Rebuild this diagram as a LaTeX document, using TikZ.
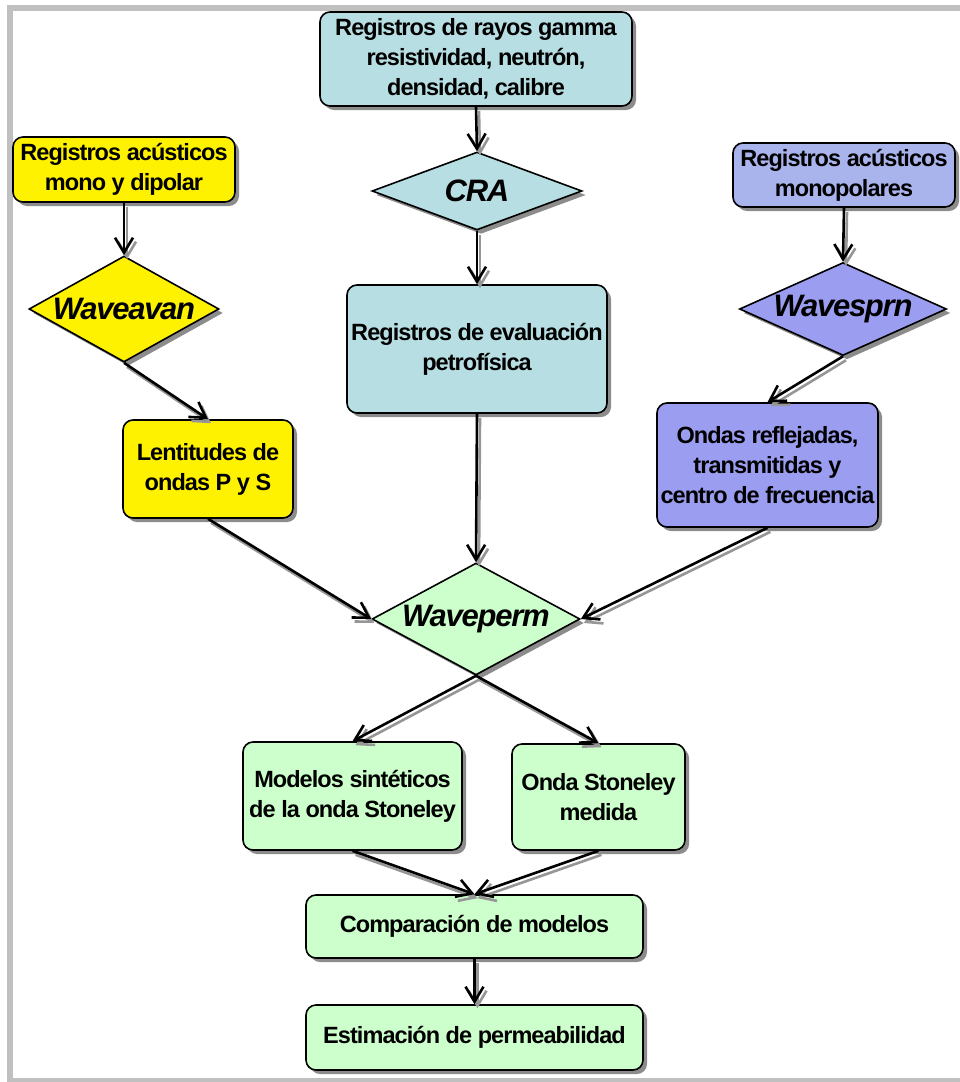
\documentclass[tikz,border=0pt]{standalone}
\usepackage{fontspec}
\setmainfont{Liberation Sans}[LetterSpace=-4]
\usetikzlibrary{shapes.geometric,shadows,arrows.meta}

\definecolor{cyanbox}{RGB}{183,222,226}
\definecolor{lilacbox}{RGB}{170,180,236}
\definecolor{lilacdark}{RGB}{155,158,240}
\definecolor{greenbox}{RGB}{204,255,204}
\definecolor{framegray}{RGB}{192,192,192}
\definecolor{shadegray}{RGB}{140,140,140}
\definecolor{linegray}{RGB}{150,150,150}

\tikzset{
  box/.style={draw=black, line width=1.6pt, rounded corners=10pt, align=center,
    inner sep=0pt, font=\bfseries\fontsize{23.5}{30}\selectfont,
    drop shadow={shadow xshift=4pt, shadow yshift=-4pt, fill=shadegray, opacity=1}},
  decision/.style={diamond, draw=black, line width=1.6pt, inner sep=0pt,
    font=\bfseries\itshape\fontsize{31}{32}\selectfont,
    drop shadow={shadow xshift=4pt, shadow yshift=-4pt, fill=shadegray, opacity=1}},
  flow/.style={line width=2.6pt, -{Straight Barb[length=15pt,width=18pt]}},
}

\begin{document}
\begin{tikzpicture}[x=1pt, y=-1pt]
    \useasboundingbox (0,0) rectangle (960,1082);
    \clip (0,0) rectangle (960,1082);

    % gray frame
    \draw[framegray, line width=6pt] (10,8) rectangle (990,1081);

    % center column
    \node[box, fill=cyanbox, minimum width=312, minimum height=94] (gamma) at (476,59)
        {Registros de rayos gamma\\resistividad, neutrón,\\densidad, calibre};
    \node[decision, fill=cyanbox, minimum width=210, minimum height=78] (cra) at (477,191)
        {\makebox[0pt]{CRA}};
    \node[box, fill=cyanbox, minimum width=260, minimum height=128] (petro) at (477,349)
        {Registros de evaluación\\petrofísica};

    % left column
    \node[box, fill=yellow, minimum width=222, minimum height=65] (mono) at (124,169.5)
        {Registros acústicos\\mono y dipolar};
    \node[decision, fill=yellow, minimum width=190, minimum height=106] (avan) at (124,309)
        {\makebox[0pt]{Waveavan}};
    \node[box, fill=yellow, minimum width=170, minimum height=98] (lent) at (208,469)
        {Lentitudes de\\ondas P y S};

    % right column
    \node[box, fill=lilacbox, minimum width=222, minimum height=64] (monop) at (844,175)
        {Registros acústicos\\monopolares};
    \node[decision, fill=lilacdark, minimum width=207, minimum height=93] (sprn) at (843,309)
        {\makebox[0pt]{Wavesprn}};
    \node[box, fill=lilacdark, minimum width=221, minimum height=124] (ondas) at (767.5,465)
        {Ondas reflejadas,\\transmitidas y\\centro de frecuencia};

    % lower part
    \node[decision, fill=greenbox, minimum width=208, minimum height=112] (perm) at (476,619)
        {\makebox[0pt]{Waveperm}};
    \node[box, fill=greenbox, minimum width=219, minimum height=108] (model) at (352.5,796)
        {Modelos sintéticos\\de la onda Stoneley};
    \node[box, fill=greenbox, minimum width=173, minimum height=106] (onda) at (598.5,797)
        {Onda Stoneley\\medida};
    \node[box, fill=greenbox, minimum width=337, minimum height=63] (comp) at (474.5,926.5)
        {Comparación de modelos};
    \node[box, fill=greenbox, minimum width=337, minimum height=65] (estim) at (474.5,1037.5)
        {Estimación de permeabilidad};

    % connectors: gray copy first, then black
    \begin{scope}[transform canvas={shift={(3pt,-4pt)}}]
        \foreach \a/\b in {gamma.south/cra.north, cra.south/petro.north,
                mono.south/avan.north, avan.south/lent.north,
                monop.south/sprn.north, sprn.south/ondas.north,
                lent.south/perm.west, petro.south/perm.north, ondas.south/perm.east,
                perm.south/model.north, perm.south/onda.north,
                model.south/comp.north, onda.south/comp.north, comp.south/estim.north}
            \draw[flow, linegray] (\a) -- (\b);
    \end{scope}
    \foreach \a/\b in {gamma.south/cra.north, cra.south/petro.north,
            mono.south/avan.north, avan.south/lent.north,
            monop.south/sprn.north, sprn.south/ondas.north,
            lent.south/perm.west, petro.south/perm.north, ondas.south/perm.east,
            perm.south/model.north, perm.south/onda.north,
            model.south/comp.north, onda.south/comp.north, comp.south/estim.north}
        \draw[flow] (\a) -- (\b);
\end{tikzpicture}
\end{document}
